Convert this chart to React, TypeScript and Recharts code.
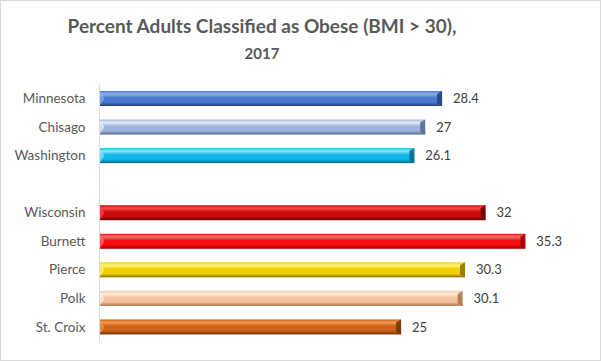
import { BarChart, Bar, XAxis, YAxis, LabelList } from "recharts";

// chart values
const places = ["Minnesota", "Chisago", "Washington", "", "Wisconsin", "Burnett", "Pierce", "Polk", "St. Croix"];
const obesePct = [28.4, 27, 26.1, null, 32, 35.3, 30.3, 30.1, 25];

// [highlight, base, shadow] per bar
const barColors = [
  ["#8fb1ee", "#4a78cc", "#22407a"],
  ["#e4ecfb", "#9fb4dc", "#56678e"],
  ["#8ae8ff", "#10b6e6", "#00688e"],
  ["#ffffff", "#ffffff", "#ffffff"],
  ["#ff4a4a", "#c80a0a", "#6e0000"],
  ["#ff7070", "#f50f0f", "#a00000"],
  ["#fff480", "#f2d000", "#8a6e00"],
  ["#fff0e2", "#f3c29c", "#a8724c"],
  ["#f39a50", "#cc6218", "#6e3206"],
];

const data = places.map((name, i) => ({ name, value: obesePct[i] }));

function BevelBar(props: any) {
  const { x, y, width, height, payload } = props;
  if (!width || width <= 0) return null;
  const idx = places.indexOf(payload?.name);
  const c = barColors[idx];
  const cap = 5;
  return (
    <g>
      <rect x={x} y={y} width={width} height={height} fill={`url(#bar-grad-${idx})`} />
      <polygon
        points={`${x},${y} ${x + cap},${y + height / 2} ${x},${y + height}`}
        fill={c[0]}
        opacity={0.7}
      />
      <polygon
        points={`${x + width - cap},${y + 3} ${x + width},${y} ${x + width},${y + height} ${x + width - cap},${y + height - 3}`}
        fill={c[2]}
        opacity={0.85}
      />
    </g>
  );
}

export default function App() {
  return (
    <div style={{ position: "absolute", left: 0, top: 0, width: 601, height: 361, background: "#fff" }}>
      <div
        style={{
          position: "absolute",
          left: 0,
          top: 0,
          width: 599,
          height: 359,
          border: "1px solid #d9d9d9",
        }}
      />
      <div
        style={{
          position: "absolute",
          left: 0,
          width: 524,
          top: 13,
          textAlign: "center",
          fontFamily: "Lato, sans-serif",
          fontWeight: 700,
          fontSize: 19,
          color: "#595959",
          lineHeight: "26px",
        }}
      >
        Percent Adults Classified as Obese (BMI &gt; 30),
      </div>
      <div
        style={{
          position: "absolute",
          left: 0,
          width: 524,
          top: 44,
          textAlign: "center",
          fontFamily: "Lato, sans-serif",
          fontWeight: 700,
          fontSize: 15,
          color: "#595959",
          lineHeight: "18px",
        }}
      >
        2017
      </div>
      <BarChart
        width={601}
        height={361}
        data={data}
        layout="vertical"
        margin={{ top: 84, right: 19, left: 0, bottom: 20 }}
        style={{ position: "absolute", left: 0, top: 0 }}
      >
        <defs>
          {barColors.map((c, i) => (
            <linearGradient key={i} id={`bar-grad-${i}`} x1="0" y1="0" x2="0" y2="1">
              <stop offset="0%" stopColor={c[1]} />
              <stop offset="20%" stopColor={c[0]} />
              <stop offset="45%" stopColor={c[1]} />
              <stop offset="75%" stopColor={c[1]} />
              <stop offset="100%" stopColor={c[2]} />
            </linearGradient>
          ))}
        </defs>
        <XAxis type="number" domain={[0, 40]} hide />
        <YAxis
          type="category"
          dataKey="name"
          width={99.5}
          axisLine={{ stroke: "#d9d9d9" }}
          tickLine={false}
          tickSize={6}
          tickMargin={8}
          interval={0}
          tick={{ fill: "#595959", fontSize: 13.5, fontFamily: "Lato, sans-serif" }}
        />
        <Bar dataKey="value" barSize={15} shape={<BevelBar />} isAnimationActive={false}>
          <LabelList
            dataKey="value"
            position="right"
            offset={11}
            fill="#404040"
            fontSize={13}
            fontFamily="Lato, sans-serif"
          />
        </Bar>
      </BarChart>
    </div>
  );
}
